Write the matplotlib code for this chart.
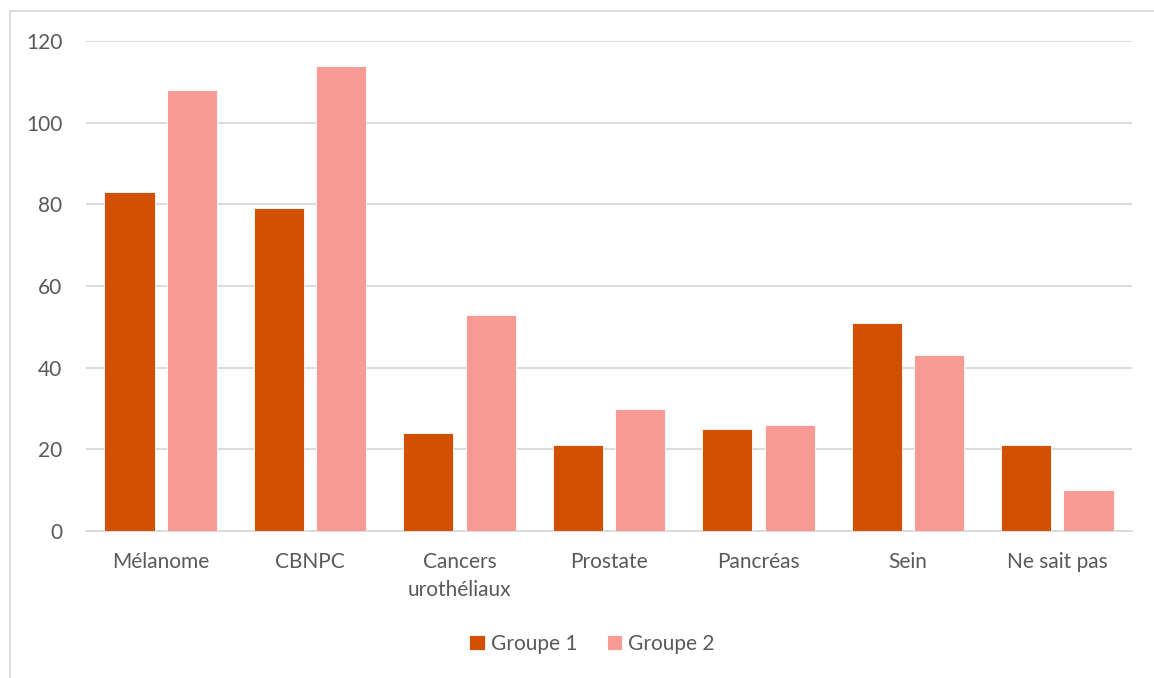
import numpy as np
import matplotlib.pyplot as plt
from matplotlib.lines import Line2D

# --------- data ---------
categories = ['Mélanome', 'CBNPC', 'Cancers\nurothéliaux', 'Prostate',
              'Pancréas', 'Sein', 'Ne sait pas']
groupe1 = [83, 79, 24, 21, 25, 51, 21]
groupe2 = [108, 114, 53, 30, 26, 43, 10]

col1 = '#D35000'
col2 = '#F99A94'
txt = '#595959'
grid = '#D9D9D9'

plt.rcParams['font.family'] = ['Lato', 'DejaVu Sans']

fig = plt.figure(figsize=(11.54, 6.78), dpi=100)
ax = fig.add_axes([86 / 1154, 1 - 531 / 678, (1132 - 86) / 1154, (531 - 41) / 678])

x = np.arange(len(categories))
w = 0.335
ax.bar(x - 0.209, groupe1, w, color=col1, edgecolor='white', linewidth=0.6,
       label='Groupe 1', zorder=3)
ax.bar(x + 0.209, groupe2, w, color=col2, edgecolor='white', linewidth=0.6,
       label='Groupe 2', zorder=3)

ax.set_xlim(-0.5, len(categories) - 0.5)
ax.set_ylim(0, 120)
ax.set_yticks(range(0, 121, 20))
ax.yaxis.grid(True, color=grid, linewidth=1.3, zorder=0)
ax.set_xticks(x)
ax.set_xticklabels(categories, fontsize=15, color=txt, linespacing=1.5)
ax.tick_params(axis='y', labelsize=15, labelcolor=txt, length=0, pad=17)
ax.tick_params(axis='x', length=0, pad=15)
for s in ['top', 'right', 'left']:
    ax.spines[s].set_visible(False)
ax.spines['bottom'].set_color(grid)
ax.spines['bottom'].set_linewidth(1.3)

# ----------- legend -----------
leg = fig.legend(loc='center', bbox_to_anchor=(592 / 1154, 1 - 644 / 678),
                 ncol=2, frameon=False, fontsize=15, handlelength=0.75,
                 handleheight=0.75, handletextpad=0.3, columnspacing=1.4)
for t in leg.get_texts():
    t.set_color(txt)

# ----------- chart border -----------
fig.add_artist(Line2D([9.5 / 1154, 9.5 / 1154], [0, 1 - 11 / 678],
                      transform=fig.transFigure, color=grid, linewidth=1.3))
fig.add_artist(Line2D([9.5 / 1154, 1], [1 - 11 / 678, 1 - 11 / 678],
                      transform=fig.transFigure, color=grid, linewidth=1.3))

fig.savefig('out.png', dpi=100)
